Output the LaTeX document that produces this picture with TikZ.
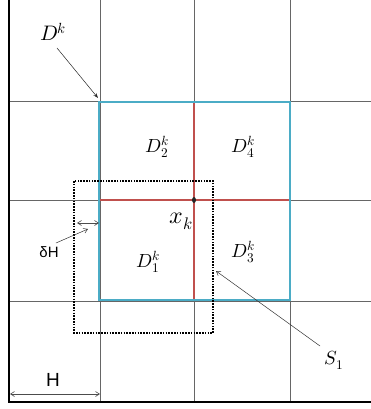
\documentclass[tikz,border=0pt]{standalone}
\usepackage{fontspec}
\usepackage{unicode-math}
\setmathfont{Latin Modern Math}
\setsansfont{Liberation Sans}
\usetikzlibrary{arrows.meta,shapes.geometric}
\definecolor{cblue}{HTML}{4BACC6}
\definecolor{cred}{HTML}{C0504D}
\begin{document}
\begin{tikzpicture}[x=1pt,y=-1pt,
  gridline/.style={draw=black!60, line width=0.6pt},
  frameline/.style={draw=black, line width=2pt},
  lbl/.style={inner sep=0pt, font=\fontsize{19}{21}\selectfont},
  sflbl/.style={inner sep=0pt, font=\sffamily},
  thinarrow/.style={draw=black!80, line width=0.5pt, -{Straight Barb[length=4pt,width=5pt]}},
  dblarrow/.style={draw=black!70, line width=0.6pt, {Straight Barb[length=4pt,width=5pt]}-{Straight Barb[length=4pt,width=5pt]}}]
\useasboundingbox (0,0) rectangle (371,409);
% grid
\foreach \x in {100,194,290} \draw[gridline] (\x,0) -- (\x,402);
\foreach \y in {101,200,301} \draw[gridline] (9,\y) -- (371,\y);
% frame
\draw[frameline] (9,0) -- (9,402) -- (371,402);
% red cross
\draw[cred, line width=1.8pt] (194,102) -- (194,299);
\draw[cred, line width=1.8pt] (100,200) -- (290,200);
% blue square
\draw[cblue, line width=2.8pt] (99,102) rectangle (290,300);
% dotted square
\draw[black, line width=2pt, dash pattern=on 1.6pt off 1.2pt] (74,181) rectangle (213,333);
% centre point
\node[fill=black!85, ellipse, inner sep=0pt, minimum width=4pt, minimum height=6pt] (xc) at (194,200) {};
% labels
\node[lbl, font=\fontsize{21}{23}\selectfont] (Dk) at (53,32) {$D^k$};
\node[lbl] (D2) at (157,147) {$D_2^k$};
\node[lbl] (D4) at (243,147) {$D_4^k$};
\node[lbl] (D1) at (148,262) {$D_1^k$};
\node[lbl] (D3) at (243,252) {$D_3^k$};
\node[lbl, font=\fontsize{24}{26}\selectfont] (xk) at (181,221) {$x_k$};
\node[lbl] (S1) at (334,360) {$S_1$};
\node[sflbl, font=\sffamily\fontsize{15}{17}\selectfont] (dH) at (49,252) {δH};
\node[sflbl, font=\sffamily\fontsize{19}{21}\selectfont] (H) at (53,380) {H};
% arrows
\coordinate (DkTip) at (98,98);
\coordinate (DkTail) at (57,48);
\draw[draw=black!85, line width=0.5pt, -{Stealth[length=5pt,width=3.5pt]}] (DkTail) -- (DkTip);
\coordinate (S1Tail) at (320,346);
\coordinate (S1Tip) at (216,271);
\draw[thinarrow] (S1Tail) -- (S1Tip);
\coordinate (dHTail) at (56,243);
\coordinate (dHTip) at (88,229);
\draw[thinarrow] (dHTail) -- (dHTip);
\coordinate (dA) at (77,223);
\coordinate (dB) at (99,223);
\draw[dblarrow] (dA) -- (dB);
\coordinate (hA) at (10,394);
\coordinate (hB) at (100,394);
\draw[dblarrow] (hA) -- (hB);
\end{tikzpicture}
\end{document}
